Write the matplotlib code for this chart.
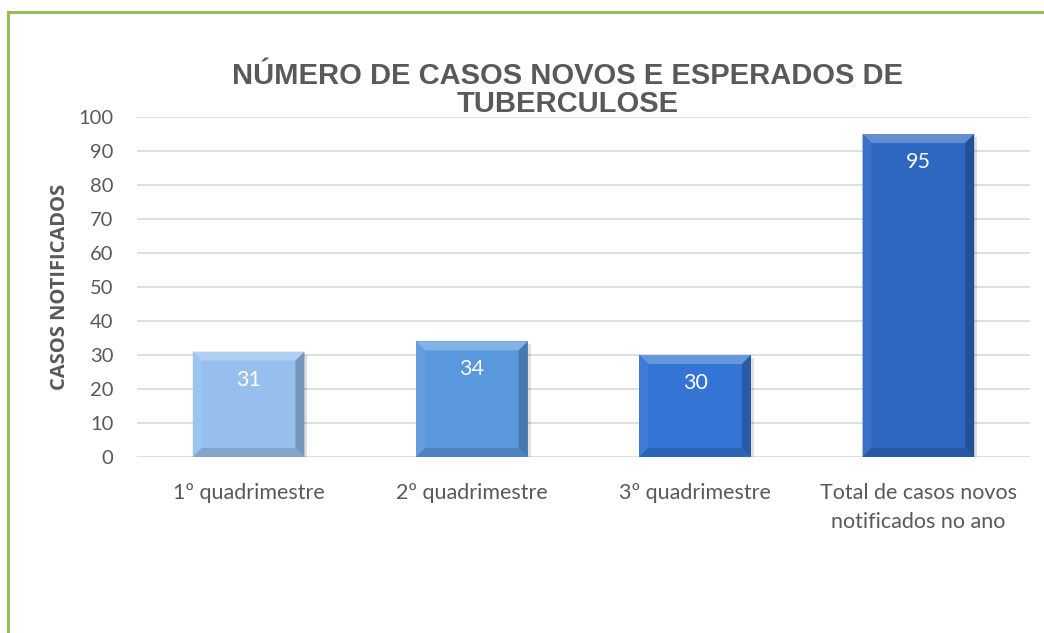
import matplotlib
matplotlib.use("Agg")
import matplotlib.pyplot as plt
from matplotlib.patches import Polygon
from matplotlib.lines import Line2D
import matplotlib.colors as mcolors

categories = ["1º quadrimestre", "2º quadrimestre", "3º quadrimestre",
              "Total de casos novos\nnotificados no ano"]
values = [31, 34, 30, 95]
bar_colors = ["#97BFEE", "#5A98DE", "#3374D4", "#2D67C2"]
yticks = [0, 10, 20, 30, 40, 50, 60, 70, 80, 90, 100]
title = "NÚMERO DE CASOS NOVOS E ESPERADOS DE\nTUBERCULOSE"
ylabel = "CASOS NOTIFICADOS"

W, H = 1044, 633
fig = plt.figure(figsize=(W / 100, H / 100), dpi=100)
fig.patch.set_facecolor("white")

# green frame (top & left visible)
fig.add_artist(Line2D([8 / W, 1], [1 - 12 / H, 1 - 12 / H], color="#9BBB59", lw=2.2,
                      transform=fig.transFigure))
fig.add_artist(Line2D([8 / W, 8 / W], [0, 1 - 12 / H], color="#9BBB59", lw=2.2,
                      transform=fig.transFigure))

L, R, T, B = 137, 1030, 117, 457
ax = fig.add_axes([L / W, 1 - B / H, (R - L) / W, (B - T) / H])
ax.set_xlim(-0.5, len(values) - 0.5)
ax.set_ylim(0, 100)
for s in ax.spines.values():
    s.set_visible(False)
ax.set_yticks(yticks)
ax.yaxis.grid(True, color="#D9D9D9", lw=1.2)
ax.set_axisbelow(True)
ax.tick_params(axis="both", length=0, colors="#595959")
ax.tick_params(axis="y", pad=17)
ax.tick_params(axis="x", pad=19)
ax.set_xticks(range(len(values)))
ax.set_xticklabels(categories, fontfamily="Lato", fontsize=15.5, color="#595959",
                   linespacing=1.55, va="top")
for lab in ax.get_yticklabels():
    lab.set_fontfamily("Lato")
    lab.set_fontsize(14.5)

width = 0.5
bev_px = 9
dx = bev_px * (len(values) / (R - L))
dy = bev_px * (100 / (B - T))

def shade(c, f):
    r, g, b = mcolors.to_rgb(c)
    if f >= 0:
        return (r + (1 - r) * f, g + (1 - g) * f, b + (1 - b) * f)
    return (r * (1 + f), g * (1 + f), b * (1 + f))

for i, (v, c) in enumerate(zip(values, bar_colors)):
    x0, x1 = i - width / 2, i + width / 2
    sx = 3 * (len(values) / (R - L)); sy = 3 * (100 / (B - T))
    ax.add_patch(Polygon([[x0 + sx, -sy], [x1 + sx, -sy], [x1 + sx, v - sy], [x0 + sx, v - sy]],
                         closed=True, facecolor="#000000", alpha=0.12, lw=0, zorder=2))
    ax.bar(i, v, width=width, color=c, zorder=3, lw=0)
    top = [[x0, v], [x1, v], [x1 - dx, v - dy], [x0 + dx, v - dy]]
    bot = [[x0, 0], [x1, 0], [x1 - dx, dy], [x0 + dx, dy]]
    left = [[x0, 0], [x0, v], [x0 + dx, v - dy], [x0 + dx, dy]]
    right = [[x1, 0], [x1, v], [x1 - dx, v - dy], [x1 - dx, dy]]
    ax.add_patch(Polygon(top, closed=True, facecolor=shade(c, 0.25), lw=0, zorder=4))
    ax.add_patch(Polygon(left, closed=True, facecolor=shade(c, 0.06), lw=0, zorder=4))
    ax.add_patch(Polygon(right, closed=True, facecolor=shade(c, -0.22), lw=0, zorder=4))
    ax.add_patch(Polygon(bot, closed=True, facecolor=shade(c, -0.14), lw=0, zorder=4))
    ax.annotate(str(v), (i, v), xytext=(0, -28), textcoords="offset pixels",
                ha="center", va="center", color="white", fontsize=15.5, fontfamily="Lato",
                zorder=5)

fig.text(568 / W, 1 - 90 / H, title, ha="center", va="center", fontsize=21,
         fontweight="bold", color="#595959", fontfamily="Liberation Sans", linespacing=1.0)
fig.text(60 / W, 1 - 287 / H, ylabel, rotation=90, ha="center", va="center",
         fontsize=14.5, fontweight="bold", color="#595959", fontfamily="Open Sans")

fig.savefig("out.png", dpi=100, facecolor="white")
